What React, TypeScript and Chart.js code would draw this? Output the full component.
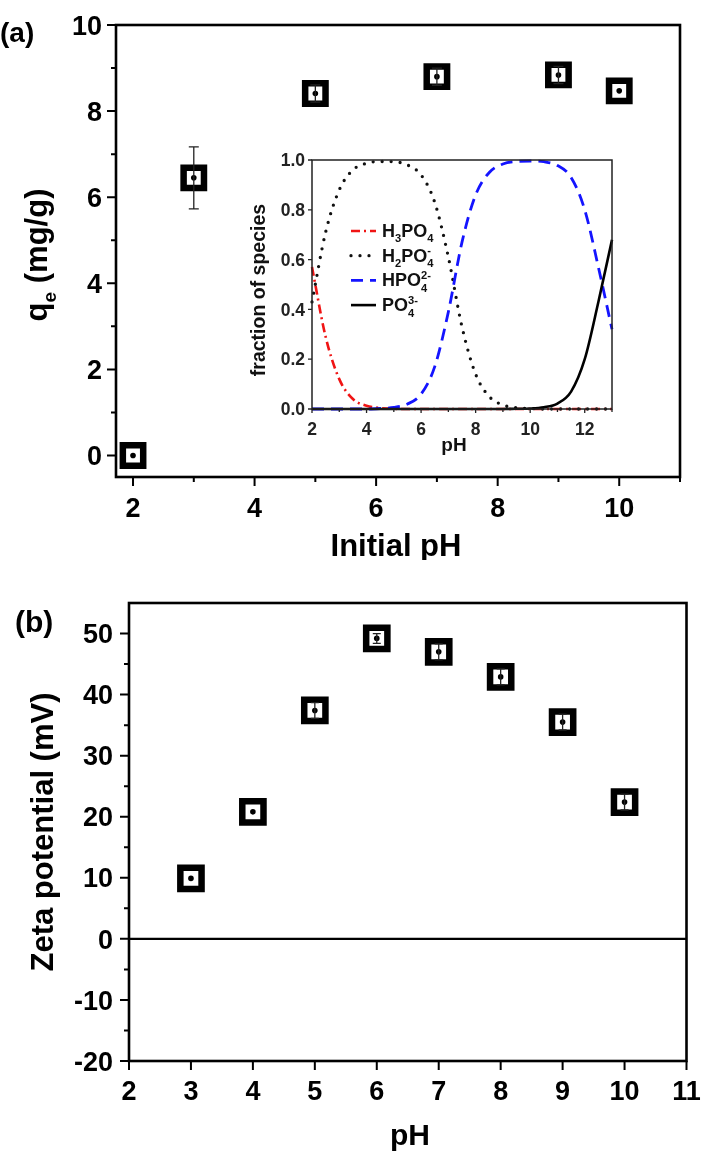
import React, { useEffect, useRef } from 'react';
import { Chart, registerables } from 'chart.js';
Chart.register(...registerables);

const FAMILY = "'Liberation Sans', Arial, Helvetica, sans-serif";

// ---------- Panel (a): adsorption vs initial pH ----------
const phA = [2, 3, 5, 7, 9, 10];
const qeA = [0, 6.45, 8.41, 8.8, 8.84, 8.47];
const qeErrA = [0, 0.72, 0.2, 0.2, 0.2, 0];
const xTicksA = [2, 4, 6, 8, 10];
const xMinorA = [3, 5, 7, 9, 11];
const yTicksA = [0, 2, 4, 6, 8, 10];
const yMinorA = [1, 3, 5, 7, 9];

// ---------- Inset: phosphate speciation ----------
const phInset = [2, 2.5, 3, 3.5, 4, 4.5, 5, 5.5, 6, 6.5, 7, 7.5, 8, 8.5, 9, 9.5, 10, 10.5, 11, 11.5, 12, 12.5, 13];
const fracH3PO4 = [0.57, 0.29, 0.12, 0.04, 0.013, 0.004, 0.001, 0, 0, 0, 0, 0, 0, 0, 0, 0, 0, 0, 0, 0, 0, 0, 0];
const fracH2PO4 = [0.43, 0.71, 0.88, 0.96, 0.987, 0.994, 0.993, 0.98, 0.94, 0.83, 0.61, 0.33, 0.14, 0.05, 0.016, 0.005, 0.002, 0, 0, 0, 0, 0, 0];
const fracHPO4 = [0, 0, 0, 0, 0, 0.002, 0.006, 0.02, 0.06, 0.17, 0.39, 0.67, 0.86, 0.95, 0.984, 0.994, 0.996, 0.993, 0.978, 0.93, 0.8, 0.57, 0.32];
const fracPO4 = [0, 0, 0, 0, 0, 0, 0, 0, 0, 0, 0, 0, 0, 0, 0, 0.001, 0.002, 0.007, 0.022, 0.07, 0.2, 0.43, 0.68];
const insetXTicks = [2, 4, 6, 8, 10, 12];
const insetXMinor = [3, 5, 7, 9, 11, 13];
const insetYTicks = [0, 0.2, 0.4, 0.6, 0.8, 1.0];

type Part = [string, number];
const legendH3PO4: Part[] = [['H', 0], ['3', 1], ['PO', 0], ['4', 1]];
const legendH2PO4: Part[] = [['H', 0], ['2', 1], ['PO', 0], ['4', 1], ['-', 2]];
const legendHPO4: Part[] = [['HPO', 0], ['4', 1], ['2-', 2]];
const legendPO4: Part[] = [['PO', 0], ['4', 1], ['3-', 2]];

// ---------- Panel (b): zeta potential ----------
const phB = [3, 4, 5, 6, 7, 8, 9, 10];
const zetaB = [9.9, 20.8, 37.4, 49.2, 47.0, 42.9, 35.5, 22.4];
const zetaErrB = [0, 0, 1.3, 0.8, 1.3, 1.3, 1.3, 1.3];
const xTicksB = [2, 3, 4, 5, 6, 7, 8, 9, 10, 11];
const yTicksB = [-20, -10, 0, 10, 20, 30, 40, 50];
const yMinorB = [-15, -5, 5, 15, 25, 35, 45];

// ---------- styles ----------
const insetStyles = [
  { color: '#000000', width: 2.6, dash: [] as number[], cap: 'butt' },
  { color: '#1414ff', width: 2.8, dash: [12, 7], cap: 'butt' },
  { color: '#111111', width: 3.3, dash: [0, 9], cap: 'round' },
  { color: '#f01414', width: 2.6, dash: [9, 4, 2, 4], cap: 'butt' },
];

function richText(ctx: CanvasRenderingContext2D, parts: Part[], x: number, y: number, size: number, draw: boolean) {
  let cx = x;
  let subStart = x;
  let subW = 0;
  let last = 0;
  for (const [t, m] of parts) {
    const fs = m === 0 ? size : size * 0.62;
    ctx.font = `bold ${fs}px ${FAMILY}`;
    const w = ctx.measureText(t).width;
    const dy = m === 1 ? size * 0.3 : m === 2 ? -size * 0.42 : 0;
    if (m === 2 && last === 1) {
      if (draw) ctx.fillText(t, subStart, y + dy);
      cx = subStart + Math.max(subW, w);
    } else {
      if (m === 1) {
        subStart = cx;
        subW = w;
      }
      if (draw) ctx.fillText(t, cx, y + dy);
      cx += w;
    }
    last = m;
  }
  return cx - x;
}

function drawRotated(ctx: CanvasRenderingContext2D, parts: Part[], bx: number, cy: number, size: number) {
  ctx.save();
  ctx.translate(bx, cy);
  ctx.rotate(-Math.PI / 2);
  ctx.textAlign = 'left';
  ctx.textBaseline = 'alphabetic';
  const w = richText(ctx, parts, 0, 0, size, false);
  richText(ctx, parts, -w / 2, 0, size, true);
  ctx.restore();
}

type FrameSpec = {
  xMajor: number[];
  xMinor: number[];
  yMajor: number[];
  yMinor: number[];
  majorLen: number;
  minorLen: number;
  lineWidth: number;
  tickWidth: number;
  color: string;
  fontSize: number;
  xLabelDy: number;
  yLabelDx: number;
  yFmt: (v: number) => string;
};

function drawFrame(chart: any, s: FrameSpec) {
  const { ctx, chartArea: a } = chart;
  const x = chart.scales.x;
  const y = chart.scales.y;
  ctx.save();
  ctx.setLineDash([]);
  ctx.strokeStyle = s.color;
  ctx.lineWidth = s.lineWidth;
  ctx.strokeRect(a.left, a.top, a.right - a.left, a.bottom - a.top);
  ctx.lineWidth = s.tickWidth;
  ctx.beginPath();
  s.xMajor.forEach((v) => {
    const p = x.getPixelForValue(v);
    ctx.moveTo(p, a.bottom);
    ctx.lineTo(p, a.bottom + s.majorLen);
  });
  s.xMinor.forEach((v) => {
    const p = x.getPixelForValue(v);
    ctx.moveTo(p, a.bottom);
    ctx.lineTo(p, a.bottom + s.minorLen);
  });
  s.yMajor.forEach((v) => {
    const p = y.getPixelForValue(v);
    ctx.moveTo(a.left, p);
    ctx.lineTo(a.left - s.majorLen, p);
  });
  s.yMinor.forEach((v) => {
    const p = y.getPixelForValue(v);
    ctx.moveTo(a.left, p);
    ctx.lineTo(a.left - s.minorLen, p);
  });
  ctx.stroke();
  ctx.fillStyle = s.color;
  ctx.font = `bold ${s.fontSize}px ${FAMILY}`;
  ctx.textBaseline = 'alphabetic';
  ctx.textAlign = 'center';
  s.xMajor.forEach((v) => ctx.fillText(String(v), x.getPixelForValue(v), a.bottom + s.xLabelDy));
  ctx.textAlign = 'right';
  const capHalf = (s.fontSize * 0.716) / 2;
  s.yMajor.forEach((v) => ctx.fillText(s.yFmt(v), a.left - s.yLabelDx, y.getPixelForValue(v) + capHalf));
  ctx.restore();
}

function drawErrorBars(chart: any, xs: number[], ys: number[], errs: number[], capHalf: number) {
  const { ctx } = chart;
  const x = chart.scales.x;
  const y = chart.scales.y;
  ctx.save();
  ctx.setLineDash([]);
  ctx.strokeStyle = '#222';
  ctx.lineWidth = 1.3;
  ctx.beginPath();
  xs.forEach((v, i) => {
    const e = errs[i];
    if (!e) return;
    const px = x.getPixelForValue(v);
    const y1 = y.getPixelForValue(ys[i] - e);
    const y2 = y.getPixelForValue(ys[i] + e);
    ctx.moveTo(px, y1);
    ctx.lineTo(px, y2);
    ctx.moveTo(px - capHalf, y1);
    ctx.lineTo(px + capHalf, y1);
    ctx.moveTo(px - capHalf, y2);
    ctx.lineTo(px + capHalf, y2);
  });
  ctx.stroke();
  ctx.restore();
}

function markerDatasets(xs: number[], ys: number[], radius: number, bw: number) {
  const pts = xs.map((x, i) => ({ x, y: ys[i] }));
  return [
    {
      data: pts,
      pointStyle: 'circle',
      pointRadius: 2.8,
      pointBackgroundColor: '#000',
      pointBorderWidth: 0,
      order: 1,
      clip: false,
    },
    {
      data: pts,
      pointStyle: 'rect',
      pointRadius: radius,
      pointBackgroundColor: '#fff',
      pointBorderColor: '#000',
      pointBorderWidth: bw,
      order: 2,
      clip: false,
    },
  ];
}

export default function App() {
  const aRef = useRef<HTMLCanvasElement>(null);
  const insetRef = useRef<HTMLCanvasElement>(null);
  const bRef = useRef<HTMLCanvasElement>(null);

  useEffect(() => {
    const charts: Chart[] = [];

    // Panel (a)
    const plugA = {
      id: 'plugA',
      afterDatasetsDraw(chart: any) {
        drawErrorBars(chart, phA, qeA, qeErrA, 5);
      },
      afterDraw(chart: any) {
        drawFrame(chart, {
          xMajor: xTicksA, xMinor: xMinorA, yMajor: yTicksA, yMinor: yMinorA,
          majorLen: 9, minorLen: 5, lineWidth: 2.6, tickWidth: 2, color: '#000',
          fontSize: 27, xLabelDy: 40, yLabelDx: 14, yFmt: (v) => String(v),
        });
        const ctx = chart.ctx;
        ctx.save();
        ctx.fillStyle = '#000';
        ctx.textBaseline = 'alphabetic';
        ctx.textAlign = 'center';
        ctx.font = `bold 31px ${FAMILY}`;
        ctx.fillText('Initial pH', 396, 556);
        ctx.textAlign = 'left';
        ctx.font = `bold 28px ${FAMILY}`;
        ctx.fillText('(a)', 0, 42);
        drawRotated(ctx, [['q', 0], ['e', 1], [' (mg/g)', 0]], 47, 255, 31);
        ctx.restore();
      },
    };
    charts.push(
      new Chart(aRef.current!, {
        type: 'scatter',
        data: { datasets: markerDatasets(phA, qeA, 14.4, 6.5) as any },
        options: {
          responsive: false,
          animation: false,
          events: [],
          layout: { padding: { left: 116, top: 25, right: 28, bottom: 83 } },
          scales: {
            x: { type: 'linear', display: false, min: 1.72, max: 11 },
            y: { type: 'linear', display: false, min: -0.5, max: 10 },
          },
          plugins: { legend: { display: false }, tooltip: { enabled: false } },
        },
        plugins: [plugA],
      })
    );

    // Inset
    const insetSeries = [fracPO4, fracHPO4, fracH2PO4, fracH3PO4];
    const legendRows = [legendH3PO4, legendH2PO4, legendHPO4, legendPO4];
    const legendStyle = [insetStyles[3], insetStyles[2], insetStyles[1], insetStyles[0]];
    const plugInset = {
      id: 'plugInset',
      afterDraw(chart: any) {
        drawFrame(chart, {
          xMajor: insetXTicks, xMinor: insetXMinor, yMajor: insetYTicks, yMinor: [],
          majorLen: 4, minorLen: 3, lineWidth: 1.5, tickWidth: 1.3, color: '#222',
          fontSize: 17.5, xLabelDy: 26, yLabelDx: 7, yFmt: (v) => v.toFixed(1),
        });
        const ctx = chart.ctx;
        ctx.save();
        ctx.fillStyle = '#111';
        ctx.textBaseline = 'alphabetic';
        ctx.textAlign = 'center';
        ctx.font = `bold 19px ${FAMILY}`;
        ctx.fillText('pH', 234, 311);
        drawRotated(ctx, [['fraction of species', 0]], 45, 150, 19.5);
        legendRows.forEach((parts, i) => {
          const st = legendStyle[i];
          const ly = 91 + i * 24.7;
          ctx.strokeStyle = st.color;
          ctx.lineWidth = st.width;
          ctx.lineCap = st.cap as CanvasLineCap;
          ctx.setLineDash(st.dash);
          ctx.beginPath();
          ctx.moveTo(131, ly);
          ctx.lineTo(156, ly);
          ctx.stroke();
          ctx.setLineDash([]);
          ctx.fillStyle = '#111';
          ctx.textAlign = 'left';
          richText(ctx, parts, 162, ly + 6, 18, true);
        });
        ctx.restore();
      },
    };
    charts.push(
      new Chart(insetRef.current!, {
        type: 'line',
        data: {
          datasets: insetSeries.map((arr, i) => ({
            data: phInset.map((x, j) => ({ x, y: arr[j] })),
            borderColor: insetStyles[i].color,
            borderWidth: insetStyles[i].width,
            borderDash: insetStyles[i].dash,
            borderCapStyle: insetStyles[i].cap as any,
            pointRadius: 0,
            fill: false,
            cubicInterpolationMode: 'monotone' as const,
            clip: false,
          })),
        },
        options: {
          responsive: false,
          animation: false,
          events: [],
          layout: { padding: { left: 92, top: 20, right: 18, bottom: 51 } },
          scales: {
            x: { type: 'linear', display: false, min: 2, max: 13 },
            y: { type: 'linear', display: false, min: 0, max: 1 },
          },
          plugins: { legend: { display: false }, tooltip: { enabled: false } },
        },
        plugins: [plugInset],
      })
    );

    // Panel (b)
    const plugB = {
      id: 'plugB',
      beforeDatasetsDraw(chart: any) {
        const { ctx, chartArea: a } = chart;
        const y0 = chart.scales.y.getPixelForValue(0);
        ctx.save();
        ctx.strokeStyle = '#000';
        ctx.lineWidth = 2.4;
        ctx.beginPath();
        ctx.moveTo(a.left, y0);
        ctx.lineTo(a.right, y0);
        ctx.stroke();
        ctx.restore();
      },
      afterDatasetsDraw(chart: any) {
        drawErrorBars(chart, phB, zetaB, zetaErrB, 4);
      },
      afterDraw(chart: any) {
        drawFrame(chart, {
          xMajor: xTicksB, xMinor: [], yMajor: yTicksB, yMinor: yMinorB,
          majorLen: 9, minorLen: 5, lineWidth: 2.6, tickWidth: 2, color: '#000',
          fontSize: 27, xLabelDy: 39, yLabelDx: 16, yFmt: (v) => String(v),
        });
        const ctx = chart.ctx;
        ctx.save();
        ctx.fillStyle = '#000';
        ctx.textBaseline = 'alphabetic';
        ctx.textAlign = 'center';
        ctx.font = `bold 30px ${FAMILY}`;
        ctx.fillText('pH', 410, 585);
        ctx.textAlign = 'left';
        ctx.font = `bold 30px ${FAMILY}`;
        ctx.fillText('(b)', 15, 72);
        drawRotated(ctx, [['Zeta potential (mV)', 0]], 53, 272, 31);
        ctx.restore();
      },
    };
    charts.push(
      new Chart(bRef.current!, {
        type: 'scatter',
        data: { datasets: markerDatasets(phB, zetaB, 15, 6.5) as any },
        options: {
          responsive: false,
          animation: false,
          events: [],
          layout: { padding: { left: 129, top: 43, right: 18, bottom: 99 } },
          scales: {
            x: { type: 'linear', display: false, min: 2, max: 11 },
            y: { type: 'linear', display: false, min: -20, max: 55 },
          },
          plugins: { legend: { display: false }, tooltip: { enabled: false } },
        },
        plugins: [plugB],
      })
    );

    return () => charts.forEach((c) => c.destroy());
  }, []);

  return (
    <div style={{ position: 'absolute', left: 0, top: 0, width: 708, height: 1160, background: '#fff', overflow: 'hidden' }}>
      <canvas ref={aRef} width={708} height={560} style={{ position: 'absolute', left: 0, top: 0, width: 708, height: 560 }} />
      <canvas ref={insetRef} width={410} height={320} style={{ position: 'absolute', left: 220, top: 140, width: 410, height: 320 }} />
      <canvas ref={bRef} width={708} height={600} style={{ position: 'absolute', left: 0, top: 560, width: 708, height: 600 }} />
    </div>
  );
}
